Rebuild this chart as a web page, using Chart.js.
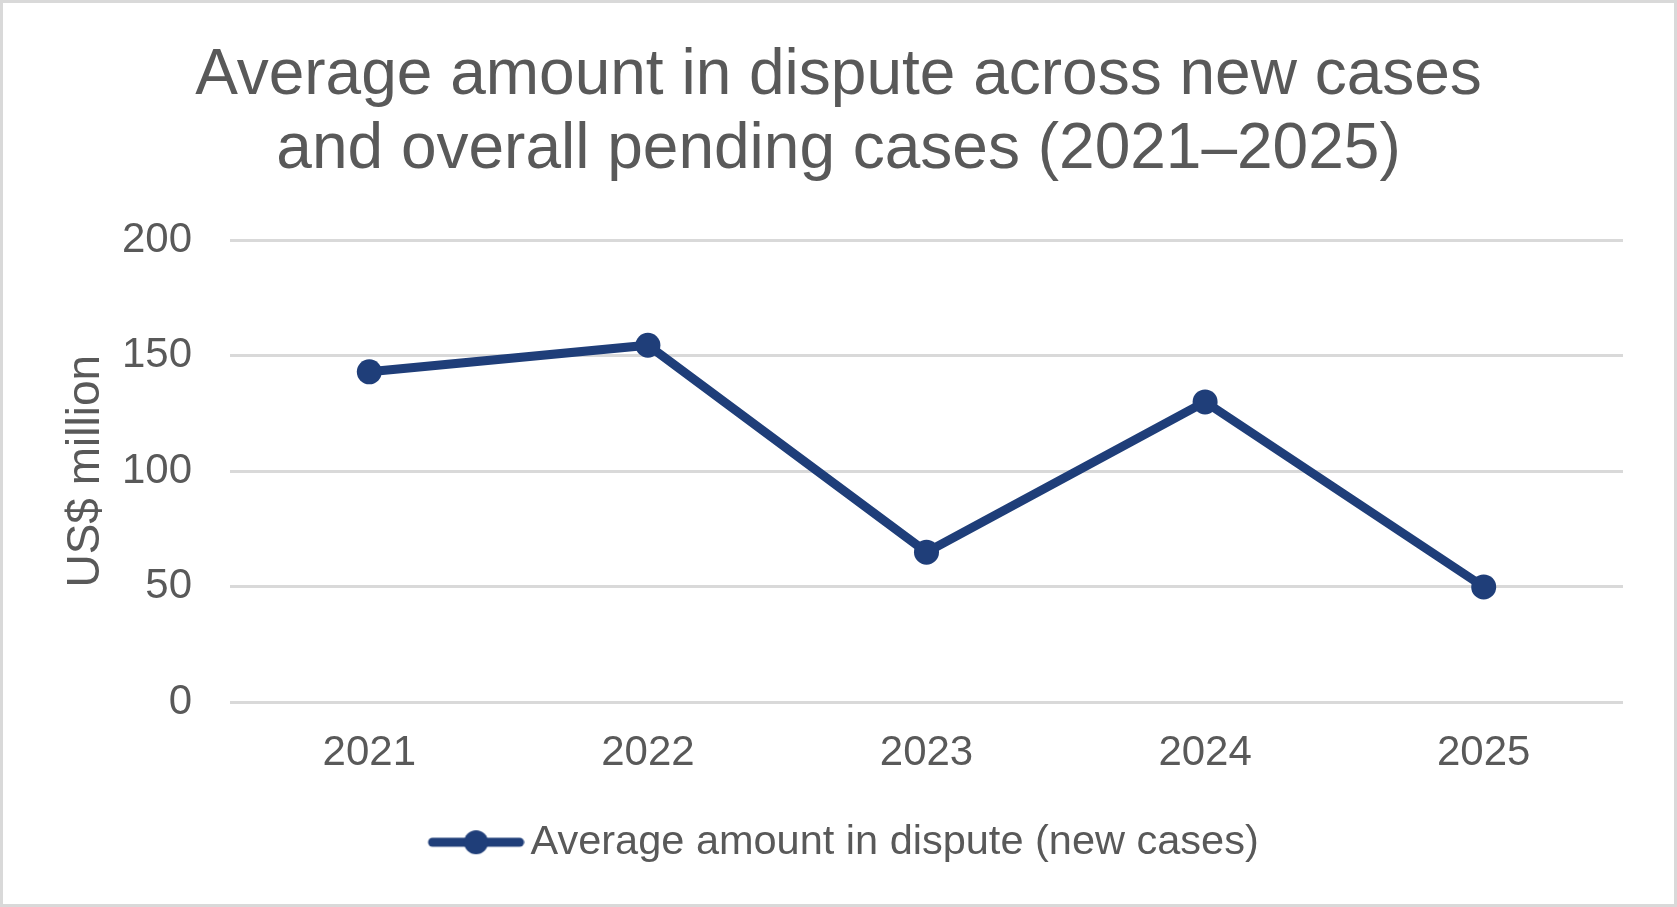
<!DOCTYPE html>
<html>
<head>
<meta charset="utf-8">
<script src="https://cdn.jsdelivr.net/npm/chart.js@4.4.1/dist/chart.umd.min.js"></script>
<style>
  html, body { margin: 0; padding: 0; background: #ffffff; }
  #wrap { width: 1677px; height: 907px; position: relative; }
  canvas { display: block; }
</style>
</head>
<body>
<div id="wrap"><canvas id="c" width="1677" height="907"></canvas></div>
<script>
const categories = ["2021", "2022", "2023", "2024", "2025"];
const seriesName = "Average amount in dispute (new cases)";
const seriesValues = [143, 154.5, 65, 130, 50];
const yTicks = [0, 50, 100, 150, 200];
const titleLines = ["Average amount in dispute across new cases", "and overall pending cases (2021\u20132025)"];
const yAxisTitle = "US$ million";

const FONT = "'Liberation Sans', Arial, sans-serif";
const TEXT = "#595959";
const LINE = "#1f3e79";

// legend marker image: line with circle (content shifted right inside the image)
const mk = document.createElement('canvas');
mk.width = 121; mk.height = 28;
(function(){
  const g = mk.getContext('2d');
  const off = 24;
  g.strokeStyle = LINE; g.lineWidth = 9; g.lineCap = 'round';
  g.beginPath(); g.moveTo(off + 5, 14); g.lineTo(off + 92, 14); g.stroke();
  g.fillStyle = LINE; g.beginPath(); g.arc(off + 48.5, 14, 12, 0, Math.PI * 2); g.fill();
})();

const borderPlugin = {
  id: 'frame',
  afterDraw(chart) {
    const ctx = chart.ctx;
    ctx.save();
    ctx.strokeStyle = '#d9d9d9';
    ctx.lineWidth = 3;
    ctx.strokeRect(1.5, 1.5, chart.width - 3, chart.height - 3);
    ctx.restore();
  }
};

new Chart(document.getElementById('c'), {
  type: 'line',
  data: {
    labels: categories,
    datasets: [{
      label: seriesName,
      data: seriesValues,
      borderColor: LINE,
      backgroundColor: LINE,
      borderWidth: 9,
      pointRadius: 12.5,
      pointHoverRadius: 12.5,
      pointBackgroundColor: LINE,
      pointBorderWidth: 0,
      pointStyle: 'circle',
      tension: 0,
      fill: false,
      yAxisID: 'y'
    }]
  },
  options: {
    responsive: false,
    animation: false,
    devicePixelRatio: 1,
    layout: { padding: { top: 0, left: 27, right: 27, bottom: 34 } },
    plugins: {
      title: {
        display: true,
        text: titleLines,
        color: TEXT,
        font: { family: FONT, size: 64, weight: 'normal', lineHeight: 74 / 64 },
        padding: { top: 39, bottom: 53 }
      },
      legend: {
        display: true,
        position: 'bottom',
        labels: {
          color: TEXT,
          font: { family: FONT, size: 41.5 },
          usePointStyle: true,
          pointStyle: mk,
          pointStyleWidth: 91.5,
          boxHeight: 28,
          padding: 10
        }
      },
      tooltip: { enabled: false }
    },
    scales: {
      x: {
        type: 'category',
        offset: true,
        grid: { display: false, drawTicks: false },
        border: { display: false },
        ticks: { color: TEXT, font: { family: FONT, size: 42 }, padding: 26, maxRotation: 0 },
        afterFit(scale) { scale.height = 109; }
      },
      y: {
        min: 0, max: 200,
        position: 'left',
        afterBuildTicks(scale) { scale.ticks = yTicks.map(v => ({ value: v })); },
        grid: { color: '#d9d9d9', lineWidth: 3, drawTicks: false },
        border: { display: false },
        ticks: { color: TEXT, font: { family: FONT, size: 42 }, padding: 38 },
        title: {
          display: true,
          text: yAxisTitle,
          color: TEXT,
          font: { family: FONT, size: 46 },
          padding: { top: 32, bottom: 0 }
        },
        afterFit(scale) { scale.width = 203; }
      },
      yRight: {
        type: 'linear',
        position: 'right',
        display: true,
        grid: { display: false, drawTicks: false },
        border: { display: false },
        ticks: { display: false },
        afterFit(scale) { scale.width = 27; }
      }
    }
  },
  plugins: [borderPlugin]
});
</script>
</body>
</html>
